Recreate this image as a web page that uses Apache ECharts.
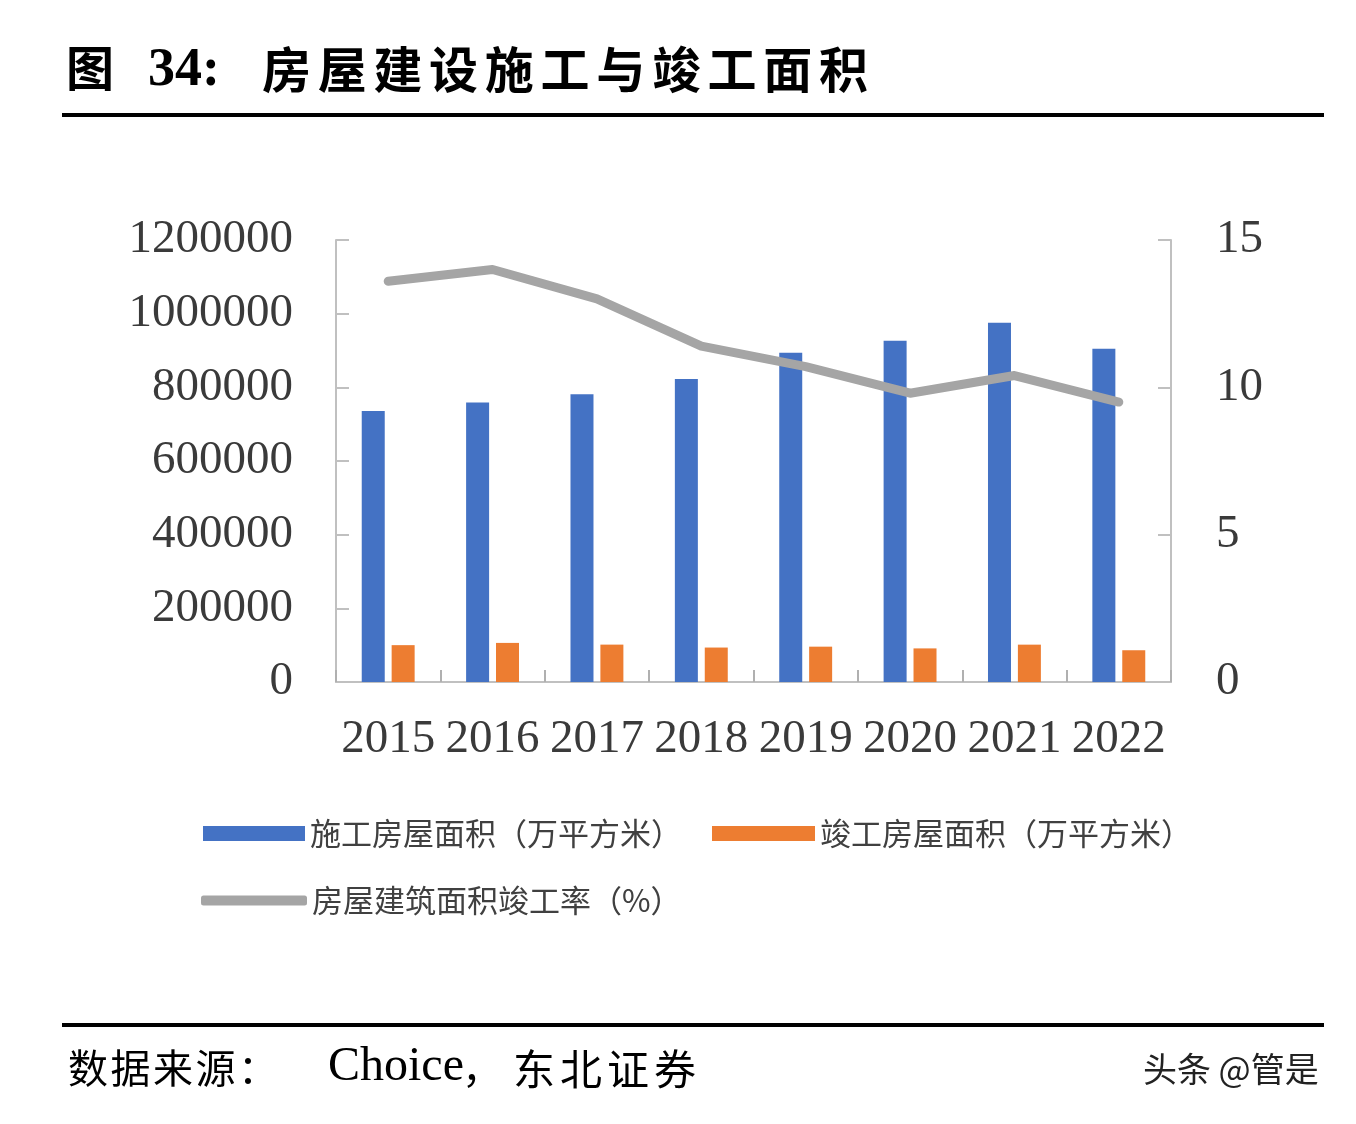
<!DOCTYPE html>
<html><head><meta charset="utf-8">
<script src="https://cdn.jsdelivr.net/npm/echarts@6/dist/echarts.min.js"></script>
<style>html,body{margin:0;padding:0;background:#fff}#c{width:1356px;height:1124px}</style>
</head><body><div id="c"></div>
<script>
const years = ['2015','2016','2017','2018','2019','2020','2021','2022'];
const underConstruction = [735693, 758975, 781484, 822300, 893821, 926759, 975387, 904999];
const completed = [100039, 106128, 101486, 93550, 95942, 91218, 101412, 86222];
const completionRate = [13.6, 14.0, 13.0, 11.4, 10.7, 9.8, 10.4, 9.5];
const names = ['施工房屋面积（万平方米）', '竣工房屋面积（万平方米）', '房屋建筑面积竣工率（%）'];
const titleText = '房屋建设施工与竣工面积';
const sourceText = '东北证券';

const serif = "'Liberation Serif','Times New Roman',serif";
const cjkSans = "'Noto Sans CJK SC',sans-serif";
const axisGray = '#c0c0c0';
const labelColor = '#3a3a3a';

function spacedChars(str, x0, step, top, font, fill) {
  return Array.from(str).map((ch, i) => ({type: 'text', left: x0 + i * step, top: top, style: {text: ch, font: font, fill: fill}}));
}

const chart = echarts.init(document.getElementById('c'), null, {renderer:'canvas'});
const legendText = {fontSize: 31, color: '#404040', fontFamily: cjkSans};
chart.setOption({
  animation: false,
  backgroundColor: '#fff',
  grid: {left: 336, right: 185, top: 240, bottom: 442, containLabel: false},
  legend: [
    {data: [names[0]], left: 198, top: 813, itemWidth: 102, itemHeight: 15, icon: 'rect', textStyle: legendText, itemGap: 12},
    {data: [names[1]], left: 707, top: 813, itemWidth: 103, itemHeight: 15, icon: 'rect', textStyle: legendText, itemGap: 12},
    {data: [{name: names[2], icon: 'roundRect', itemStyle: {color: '#a5a5a5'}}], left: 196, top: 880, itemWidth: 106, itemHeight: 10, textStyle: legendText}
  ],
  xAxis: {
    type: 'category', data: years, boundaryGap: true,
    axisLine: {lineStyle: {color: axisGray, width: 2}},
    axisTick: {show: true, inside: true, length: 12, interval: 0, lineStyle: {color: '#b0b0b0', width: 2}},
    axisLabel: {fontSize: 47, fontFamily: serif, color: labelColor, margin: 34, interval: 0}
  },
  yAxis: [
    {type: 'value', min: 0, max: 1200000, interval: 200000,
     axisLine: {show: true, lineStyle: {color: axisGray, width: 2}},
     axisTick: {show: true, inside: true, length: 13, lineStyle: {color: axisGray, width: 2}},
     splitLine: {show: false},
     axisLabel: {fontSize: 47, fontFamily: serif, color: labelColor, margin: 43, formatter: v => String(v)}},
    {type: 'value', min: 0, max: 15, interval: 5, position: 'right',
     axisLine: {show: true, lineStyle: {color: axisGray, width: 2}},
     axisTick: {show: true, inside: true, length: 13, lineStyle: {color: axisGray, width: 2}},
     splitLine: {show: false},
     axisLabel: {fontSize: 47, fontFamily: serif, color: labelColor, margin: 45}}
  ],
  series: [
    {name: names[0], type: 'bar', data: underConstruction, barWidth: 23, barGap: '30%', itemStyle: {color: '#4472c4'}},
    {name: names[1], type: 'bar', data: completed, barWidth: 23, barGap: '30%', itemStyle: {color: '#ed7d31'}},
    {name: names[2], type: 'line', yAxisIndex: 1, data: completionRate, showSymbol: false, symbol: 'none',
     lineStyle: {color: '#a5a5a5', width: 9, cap: 'round', join: 'round'}, itemStyle: {color: '#a5a5a5'}}
  ],
  graphic: [
    {type: 'text', left: 66, top: 44, style: {text: '图', font: "bold 48px " + cjkSans, fill: '#000'}},
    {type: 'text', left: 148, top: 44, style: {text: '34:', font: "bold 54px " + serif, fill: '#000'}},
    ...spacedChars(titleText, 262, 55.7, 45, "bold 49px " + cjkSans, '#000'),
    {type: 'rect', shape: {x: 62, y: 113, width: 1262, height: 4}, style: {fill: '#000'}},
    {type: 'rect', shape: {x: 62, y: 1023, width: 1262, height: 4}, style: {fill: '#000'}},
    ...spacedChars('数据来源：', 68, 42.5, 1048, "40px " + cjkSans, '#000'),
    {type: 'text', left: 328, top: 1043, style: {text: 'Choice', font: "48px " + serif, fill: '#000'}},
    {type: 'text', left: 462, top: 1048, style: {text: '，', font: "40px " + cjkSans, fill: '#000'}},
    ...spacedChars(sourceText, 513, 47, 1048, "42px " + cjkSans, '#000'),
    {type: 'text', left: 1143, top: 1052, style: {text: '头条 @管是', font: "34px " + cjkSans, fill: '#222'}}
  ]
});
</script></body></html>
